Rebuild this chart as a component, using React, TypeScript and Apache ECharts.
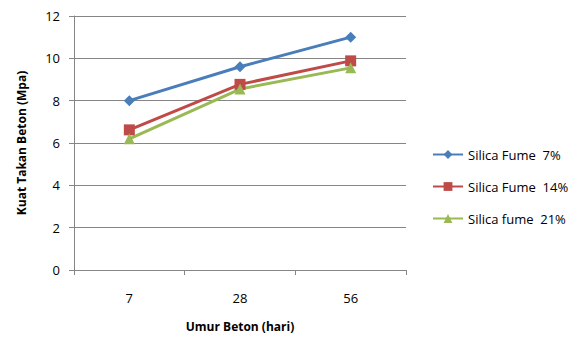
import React, { useEffect, useRef } from "react";
import * as echarts from "echarts";

const categories = ["7", "28", "56"];
const seriesNames = ["Silica Fume  7%", "Silica Fume  14%", "Silica fume  21%"];
const sf7 = [8.0, 9.6, 11.0];
const sf14 = [6.62, 8.77, 9.88];
const sf21 = [6.2, 8.55, 9.55];
const colors = ["#4A7EBB", "#BE4B48", "#98B954"];
const symbols = ["diamond", "rect", "triangle"];
const symbolSizes = [11, 11, 11];

const FONT = "'Open Sans', 'Liberation Sans', sans-serif";

export default function App() {
  const ref = useRef<HTMLDivElement>(null);
  useEffect(() => {
    if (!ref.current) return;
    const chart = echarts.init(ref.current, undefined, { renderer: "svg" });
    const data = [sf7, sf14, sf21];
    chart.setOption({
      animation: false,
      backgroundColor: "#ffffff",
      grid: { left: 74, right: 176, top: 16, bottom: 68 },
      legend: {
        orient: "vertical",
        left: 427,
        top: 143,
        itemWidth: 30,
        itemHeight: 11,
        itemGap: 19,
        textStyle: { fontFamily: FONT, fontSize: 13, color: "#000" },
        data: seriesNames,
      },
      xAxis: {
        type: "category",
        data: categories,
        boundaryGap: true,
        name: "Umur Beton (hari)",
        nameLocation: "middle",
        nameGap: 50,
        nameTextStyle: { fontFamily: FONT, fontSize: 12, fontWeight: "bold", color: "#000" },
        axisLine: { lineStyle: { color: "#868686", width: 1 } },
        axisTick: { show: true, length: 5, alignWithLabel: false, lineStyle: { color: "#868686" } },
        axisLabel: { margin: 21, fontFamily: FONT, fontSize: 13, color: "#000" },
        splitLine: { show: false },
      },
      yAxis: {
        type: "value",
        min: 0,
        max: 12,
        interval: 2,
        name: "Kuat Takan Beton (Mpa)",
        nameLocation: "middle",
        nameGap: 47,
        nameTextStyle: { fontFamily: FONT, fontSize: 12, fontWeight: "bold", color: "#000" },
        axisLine: { show: true, lineStyle: { color: "#868686", width: 1 } },
        axisTick: { show: true, length: 5, lineStyle: { color: "#868686" } },
        axisLabel: { margin: 14, fontFamily: FONT, fontSize: 13, color: "#000" },
        splitLine: { show: true, lineStyle: { color: "#868686", width: 1 } },
      },
      series: seriesNames.map((n, i) => ({
        name: n,
        type: "line",
        data: data[i],
        symbol: symbols[i],
        symbolSize: symbolSizes[i],
        showSymbol: true,
        lineStyle: { color: colors[i], width: 3 },
        itemStyle: { color: colors[i] },
      })),
    });
    return () => chart.dispose();
  }, []);
  return (
    <div
      ref={ref}
      style={{ position: "absolute", left: 0, top: 0, width: 582, height: 338 }}
    />
  );
}
